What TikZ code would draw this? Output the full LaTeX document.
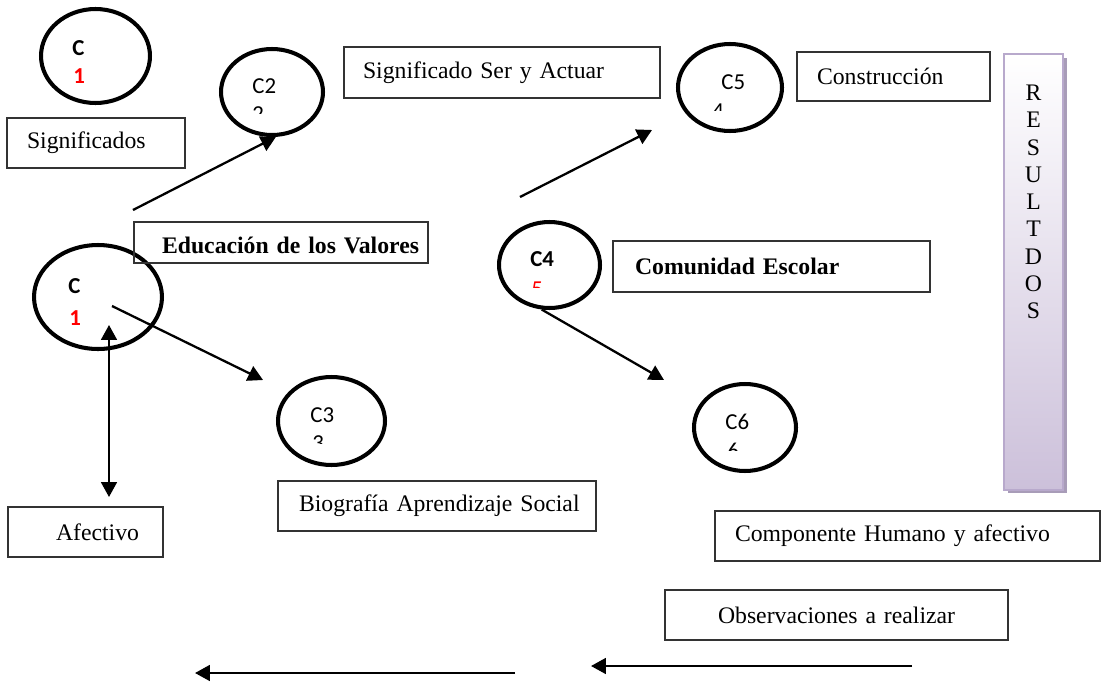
\documentclass[tikz,border=0pt]{standalone}
\usepackage{fontspec}
\setmainfont{Liberation Serif}
\newfontfamily\calib{Carlito}
\usetikzlibrary{arrows.meta,shapes.geometric,shadows}
\definecolor{lila}{HTML}{B8A9CC}
\definecolor{lilafill}{HTML}{CCC0DA}
\definecolor{lilashadow}{HTML}{A89CB8}
\definecolor{rojo}{HTML}{FF0000}
\tikzset{
  circ/.style={ellipse, draw, line width=2.3pt, inner sep=0pt},
  box/.style={draw=black!80, line width=0.7pt, inner ysep=0pt, align=left,
    font=\fontsize{13.5}{16}\selectfont},
  lbl/.style={anchor=west, inner sep=0pt, font=\calib\fontsize{13}{15}\selectfont},
  arr/.style={-{Triangle[length=8.5pt,width=9pt]}, line width=1.3pt},
  arrboth/.style={{Triangle[length=8.5pt,width=9pt]}-{Triangle[length=8.5pt,width=9pt]}, line width=1.3pt},
  resbar/.style={draw=lila, line width=1.5pt, top color=white, bottom color=lilafill,
    general shadow={fill=lilashadow, shadow xshift=2pt, shadow yshift=-2pt}},
}
\begin{document}
\begin{tikzpicture}[x=0.02cm, y=-0.02cm]
  \useasboundingbox (0,0) rectangle (1106,683);

  % categorias
  \node[circ, minimum width=2.18cm, minimum height=1.88cm] (c1a) at (95.5,56) {};
  \node[circ, minimum width=2.04cm, minimum height=1.72cm] (c2) at (272,92) {};
  \node[circ, minimum width=2.56cm, minimum height=2.08cm] (c1b) at (98,297) {};
  \node[circ, minimum width=2.14cm, minimum height=1.76cm] (c3) at (331.5,421) {};
  \node[circ, minimum width=2.02cm, minimum height=1.72cm] (c4) at (549.5,265) {};
  \node[circ, minimum width=2.08cm, minimum height=1.74cm] (c5) at (730,87.5) {};
  \node[circ, minimum width=2.04cm, minimum height=1.74cm] (c6) at (745,427.5) {};

  \node[lbl, font=\calib\bfseries\fontsize{13}{15}\selectfont] (c1a-c) at (72,48) {C};
  \node[lbl, font=\calib\bfseries\fontsize{13}{15}\selectfont, text=rojo] (c1a-n) at (73,76) {1};
  \node[lbl] (c2-c) at (252,86.5) {C2};
  \node[lbl, font=\calib\bfseries\fontsize{13}{15}\selectfont] (c1b-c) at (68,286) {C};
  \node[lbl, font=\calib\bfseries\fontsize{13}{15}\selectfont, text=rojo] (c1b-n) at (69,318) {1};
  \node[lbl] (c3-c) at (310,415) {C3};
  \node[lbl, font=\calib\bfseries\fontsize{13}{15}\selectfont] (c4-c) at (530,259) {C4};
  \node[lbl] (c5-c) at (721,82) {C5};
  \node[lbl] (c6-c) at (725,422) {C6};

  % cortados
  \foreach \x/\y/\cy/\d/\col in {252/106/113/2/black, 712/103/110/4/black,
      312/435/443/3/black, 727/443/450/6/black, 531/281/287/5/rojo} {
    \begin{scope}
      \clip (\x-3,\y-3) rectangle (\x+15,\cy);
      \node[lbl, anchor=north west, text=\col] (cut-\d) at (\x,\y) {\d};
    \end{scope}
  }

  % cuadros
  \node[box, minimum height=1cm, text width=2.76cm, inner xsep=0.4cm]
    (sig) at (96,143) {\mbox{Significados}};
  \node[box, minimum height=1.02cm, text width=5.56cm, inner xsep=0.38cm]
    (ser) at (502,72.5) {\mbox{Significado Ser y Actuar}};
  \node[box, minimum height=0.98cm, text width=3.06cm, inner xsep=0.4cm]
    (con) at (893.5,76.5) {\mbox{Construcción}};
  \node[box, minimum height=0.82cm, text width=4.76cm, inner xsep=0.56cm,
    text height=16pt, text depth=3pt, font=\bfseries\fontsize{13.5}{16}\selectfont]
    (edu) at (281,242.5) {\mbox{Educación de los Valores}};
  \node[box, minimum height=1.02cm, text width=5.46cm, inner xsep=0.44cm,
    font=\bfseries\fontsize{13.5}{16}\selectfont]
    (com) at (771.5,266.5) {\mbox{Comunidad Escolar}};
  \node[box, minimum height=1cm, text width=1.18cm, inner xsep=0.96cm]
    (afe) at (85.5,532) {\mbox{Afectivo}};
  \node[box, minimum height=1cm, text width=5.52cm, inner xsep=0.42cm]
    (bio) at (437,506) {\mbox{Biografía Aprendizaje Social}};
  \node[box, minimum height=1cm, text width=6.9cm, inner xsep=0.4cm]
    (hum) at (907.5,536) {\mbox{Componente Humano y afectivo}};
  \node[box, minimum height=1cm, text width=4.74cm, inner xsep=1.06cm]
    (obs) at (836.5,615) {\mbox{Observaciones a realizar}};

  % resultados
  \node[resbar, minimum width=1.18cm, minimum height=8.72cm] (res) at (1033.5,272) {};
  \node[align=center, inner sep=0pt, font=\fontsize{13.5}{15.5}\selectfont]
    (res-txt) at (1033.5,202) {R\\E\\S\\U\\L\\T\\D\\O\\S};

  % flechas
  \coordinate (a1s) at (133,210);
  \coordinate (a2e) at (263,380);
  \coordinate (a3s) at (520,197);
  \coordinate (a3e) at (652,130);
  \coordinate (a4e) at (664,380);
  \coordinate (a5e) at (109,497);
  \coordinate (a6s) at (515,673);
  \coordinate (a6e) at (195,673);
  \coordinate (a7s) at (912,666);
  \coordinate (a7e) at (591,666);
  \draw[arr] (a1s) -- (c2.-85);
  \draw[arr] ([shift={(14,9)}]c1b.center) -- (a2e);
  \draw[arr] (a3s) -- (a3e);
  \draw[arr] (c4.-100) -- (a4e);
  \draw[arrboth] ([shift={(11,28)}]c1b.center) -- (a5e);
  \draw[arr] (a6s) -- (a6e);
  \draw[arr] (a7s) -- (a7e);
\end{tikzpicture}
\end{document}
